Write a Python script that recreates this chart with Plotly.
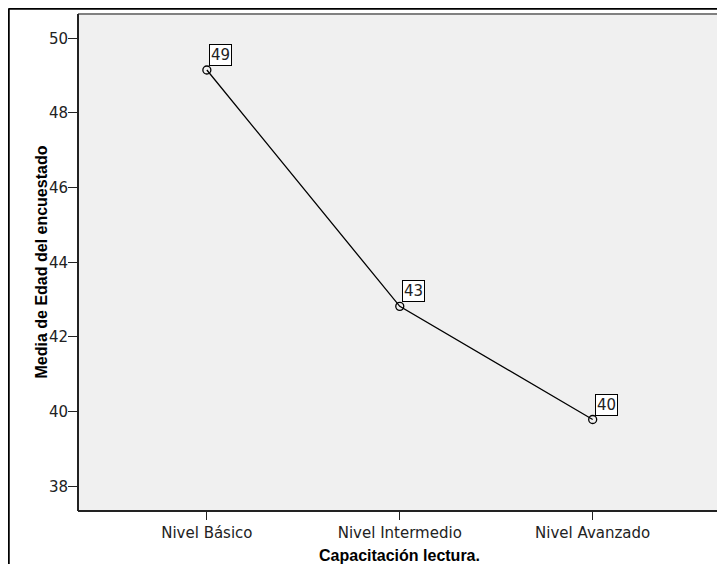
import plotly.graph_objects as go

categories = ["Nivel Básico", "Nivel Intermedio", "Nivel Avanzado"]
means = [49.15, 42.82, 39.79]
point_labels = ["49", "43", "40"]
y_ticks = [38, 40, 42, 44, 46, 48, 50]
x_title = "Capacitación lectura."
y_title = "Media de Edad del encuestado"

L, R, T, B = 70, 5, 6, 53
W, H = 717, 556
PW, PH = W - L - R, H - T - B

fig = go.Figure()
fig.add_trace(go.Scatter(
    x=categories, y=means, mode="lines+markers",
    line=dict(color="black", width=1.3),
    marker=dict(symbol="circle-open", size=8, color="black", line=dict(width=1.3)),
    hoverinfo="skip", showlegend=False,
))

for c, v, t in zip(categories, means, point_labels):
    fig.add_annotation(
        x=c, y=v, xref="x", yref="y", text=t, showarrow=False,
        xanchor="left", yanchor="bottom", xshift=2, yshift=4,
        bgcolor="white", bordercolor="black", borderwidth=1, borderpad=1,
        font=dict(family="DejaVu Sans", size=15, color="#222"),
    )

fig.add_annotation(
    x=0.5, y=-44 / PH, xref="paper", yref="paper", text="<b>" + x_title + "</b>",
    showarrow=False, xanchor="center", yanchor="middle",
    font=dict(family="Liberation Sans", size=16, color="black"),
)
fig.add_annotation(
    x=-37 / PW, y=0.5, xref="paper", yref="paper", text="<b>" + y_title + "</b>",
    showarrow=False, xanchor="center", yanchor="middle", textangle=-90,
    font=dict(family="Liberation Sans", size=16, color="black"),
)

# plot frame: gray top/right, dark left/bottom
fig.add_shape(type="line", xref="x domain", yref="y domain", x0=0, x1=1, y0=1, y1=1,
              line=dict(color="#808080", width=2))
fig.add_shape(type="line", xref="x domain", yref="y domain", x0=1, x1=1, y0=0, y1=1,
              line=dict(color="#707070", width=2))
fig.add_shape(type="line", xref="x domain", yref="y domain", x0=0, x1=0, y0=0, y1=1,
              line=dict(color="#222", width=2))
fig.add_shape(type="line", xref="x domain", yref="y domain", x0=0, x1=1, y0=0, y1=0,
              line=dict(color="#222", width=2))

# outer figure frame (top and left visible)
fx = (0.5 - L) / PW
fy = 1 + (T - 0.5) / PH
fig.add_shape(type="line", xref="paper", yref="paper", x0=fx, x1=1 + R / PW + 0.01, y0=fy, y1=fy,
              line=dict(color="black", width=2.5))
fig.add_shape(type="line", xref="paper", yref="paper", x0=fx, x1=fx, y0=-B / PH - 0.01, y1=fy,
              line=dict(color="black", width=2.5))

fig.update_xaxes(
    type="category", range=[-0.668, 2.66],
    showgrid=False, zeroline=False, showline=False,
    ticks="outside", ticklen=8, tickcolor="#222", tickwidth=1,
    tickfont=dict(family="DejaVu Sans", size=15, color="#222"),
)
fig.update_yaxes(
    range=[37.34, 50.65], tickvals=y_ticks,
    showgrid=False, zeroline=False, showline=False,
    ticks="outside", ticklen=9, tickcolor="#222", tickwidth=1,
    ticklabelstandoff=-3,
    tickfont=dict(family="DejaVu Sans", size=15, color="#222"),
)

fig.update_layout(
    width=W, height=H,
    margin=dict(l=L, r=R, t=T, b=B),
    plot_bgcolor="#F0F0F0", paper_bgcolor="white",
)

fig.write_html("out.html")
